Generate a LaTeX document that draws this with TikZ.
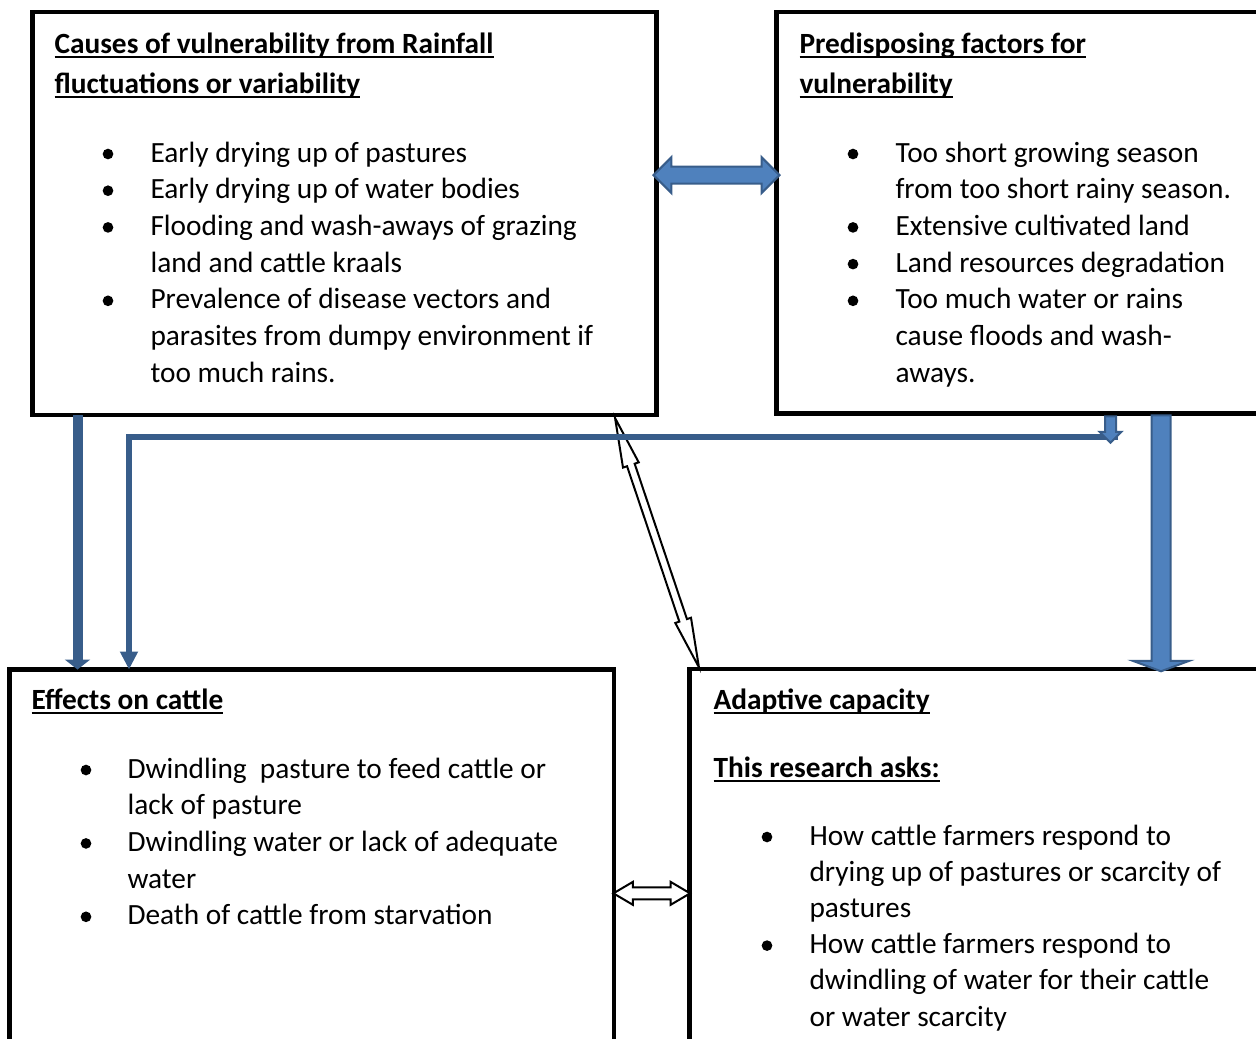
\documentclass[tikz,border=0pt]{standalone}
\usepackage{fontspec}
\setmainfont{Carlito}
\usetikzlibrary{arrows.meta,shapes.arrows,calc}
\definecolor{arrowdark}{HTML}{385D8A}
\definecolor{arrowfill}{HTML}{4F81BD}
\newcommand{\undl}[1]{\sbox0{#1}\rlap{\rule[-1.9pt]{\wd0}{0.75pt}}\usebox0}
\begin{document}
\begin{tikzpicture}[x=0.375pt, y=-0.375pt,
    box/.style={draw, line width=1.7pt, outer sep=0pt, inner sep=0pt},
    txt/.style={anchor=base west, inner sep=0pt, font=\fontsize{11pt}{13.76pt}\selectfont},
    ttl/.style={txt, font=\fontsize{11pt}{13.76pt}\selectfont\bfseries},
    thickblue/.style={draw=arrowdark, line width=3.75pt, -{Triangle[width=9.4pt, length=3.75pt]}},
    thinblue/.style={draw=arrowdark, line width=2.1pt, -{Triangle[width=6.4pt, length=6.75pt]}},
    bluedbl/.style={double arrow, draw=arrowdark, fill=arrowfill, line width=0.75pt, inner xsep=0pt},
    bluesgl/.style={single arrow, draw=arrowdark, fill=arrowfill, line width=0.75pt, inner xsep=0pt, rotate=-90},
    hollowdbl/.style={double arrow, draw=black, fill=white, line width=0.75pt, inner xsep=0pt}]
    \useasboundingbox (0,0) rectangle (1256,1038);
    \clip (0,0) rectangle (1256,1038);

    % boxes
    \node[box, minimum width=234pt, minimum height=151.13pt] (causes) at (344.5,213.5) {};
    \node[box, minimum width=196.31pt, minimum height=150.56pt] (predisp) at (1038.25,212.75) {};
    \node[box, minimum width=226.69pt, minimum height=161.44pt] (effects) at (311.75,884.75) {};
    \node[box, minimum width=228.94pt, minimum height=161.63pt] (adaptive) at (994.75,884.5) {};

    % causes
    \node[ttl] (ct1) at (54,53) {\undl{Causes of vulnerability from Rainfall}};
    \node[ttl] (ct2) at (54,93) {\undl{fluctuations or variability}};
    \node[txt] (c1) at (150,162) {Early drying up of pastures};
    \node[txt] (c2) at (150,198.7) {Early drying up of water bodies};
    \node[txt] (c3) at (150,235.4) {Flooding and wash-aways of grazing};
    \node[txt] (c4) at (150,272.1) {land and cattle kraals};
    \node[txt] (c5) at (150,308.8) {Prevalence of disease vectors and};
    \node[txt] (c6) at (150,345.5) {parasites from dumpy environment if};
    \node[txt] (c7) at (150,382.2) {too much rains.};
    \fill (108,154) circle (2pt);
    \fill (108,190.7) circle (2pt);
    \fill (108,227.4) circle (2pt);
    \fill (108,300.8) circle (2pt);

    % predisposing factors
    \node[ttl] (pt1) at (799,53) {\undl{Predisposing factors for}};
    \node[ttl] (pt2) at (799,93) {\undl{vulnerability}};
    \node[txt] (p1) at (895,162) {Too short growing season};
    \node[txt] (p2) at (895,198.7) {from too short rainy season.};
    \node[txt] (p3) at (895,235.4) {Extensive cultivated land};
    \node[txt] (p4) at (895,272.1) {Land resources degradation};
    \node[txt] (p5) at (895,308.8) {Too much water or rains};
    \node[txt] (p6) at (895,345.5) {cause floods and wash-};
    \node[txt] (p7) at (895,382.2) {aways.};
    \fill (853,154) circle (2pt);
    \fill (853,227.4) circle (2pt);
    \fill (853,264.1) circle (2pt);
    \fill (853,300.8) circle (2pt);

    % effects
    \node[ttl] (et1) at (31,709) {\undl{Effects on cattle}};
    \node[txt] (e1) at (127,778) {Dwindling\ \ pasture to feed cattle or};
    \node[txt] (e2) at (127,814.7) {lack of pasture};
    \node[txt] (e3) at (127,851.4) {Dwindling water or lack of adequate};
    \node[txt] (e4) at (127,888.1) {water};
    \node[txt] (e5) at (127,924.8) {Death of cattle from starvation};
    \fill (86,770) circle (2pt);
    \fill (86,843.4) circle (2pt);
    \fill (86,916.8) circle (2pt);

    % adaptive capacity
    \node[ttl] (at1) at (713,709) {\undl{Adaptive capacity}};
    \node[ttl] (at2) at (713,777) {\undl{This research asks:}};
    \node[txt] (a1) at (809,845) {How cattle farmers respond to};
    \node[txt] (a2) at (809,881.2) {drying up of pastures or scarcity of};
    \node[txt] (a3) at (809,917.4) {pastures};
    \node[txt] (a4) at (809,953.6) {How cattle farmers respond to};
    \node[txt] (a5) at (809,989.8) {dwindling of water for their cattle};
    \node[txt] (a6) at (809,1026) {or water scarcity};
    \fill (767,837) circle (2pt);
    \fill (767,945.6) circle (2pt);

    % links
    \coordinate (d1) at ($(causes.south east)+(-41.5,3.3)$);
    \coordinate (d2) at ($(adaptive.north west)+(9.5,-2)$);
    \node[hollowdbl, rotate=-71.4, minimum height=98.6pt, inner ysep=1.13pt,
        double arrow head extend=1.6pt, double arrow tip angle=19] (link4) at ($(d1)!.5!(d2)$) {};
    \node[hollowdbl, minimum height=28.76pt, inner ysep=1.88pt,
        double arrow head extend=2.06pt, double arrow tip angle=61] (link5)
        at ($(effects.east)!.5!(adaptive.west)+(0,8.7)$) {};
    \node[bluedbl, minimum height=47.25pt, inner ysep=2.81pt,
        double arrow head extend=3.56pt, double arrow tip angle=90] (link1)
        at ($(causes.east)!.5!(predisp.west)+(0,-38)$) {};

    \coordinate (l1) at ($(causes.south west)+(45,0)$);
    \draw[thickblue] (l1) -- (l1 |- effects.north);

    \node[bluesgl, minimum height=96pt, inner ysep=3.19pt,
        single arrow head extend=6.94pt, single arrow tip angle=139.4] (link3)
        at ($(predisp.south west)+(384.5,128)$) {};

    \coordinate (l2) at ($(effects.north west)+(119.5,0)$);
    \draw[thinblue] ($(predisp.south west)+(341,23.5)$) -| (l2);
    \node[bluesgl, minimum height=9.94pt, inner ysep=1.69pt,
        single arrow head extend=2.06pt, single arrow tip angle=90] (stub)
        at ($(predisp.south west)+(334,13.25)$) {};
\end{tikzpicture}
\end{document}
